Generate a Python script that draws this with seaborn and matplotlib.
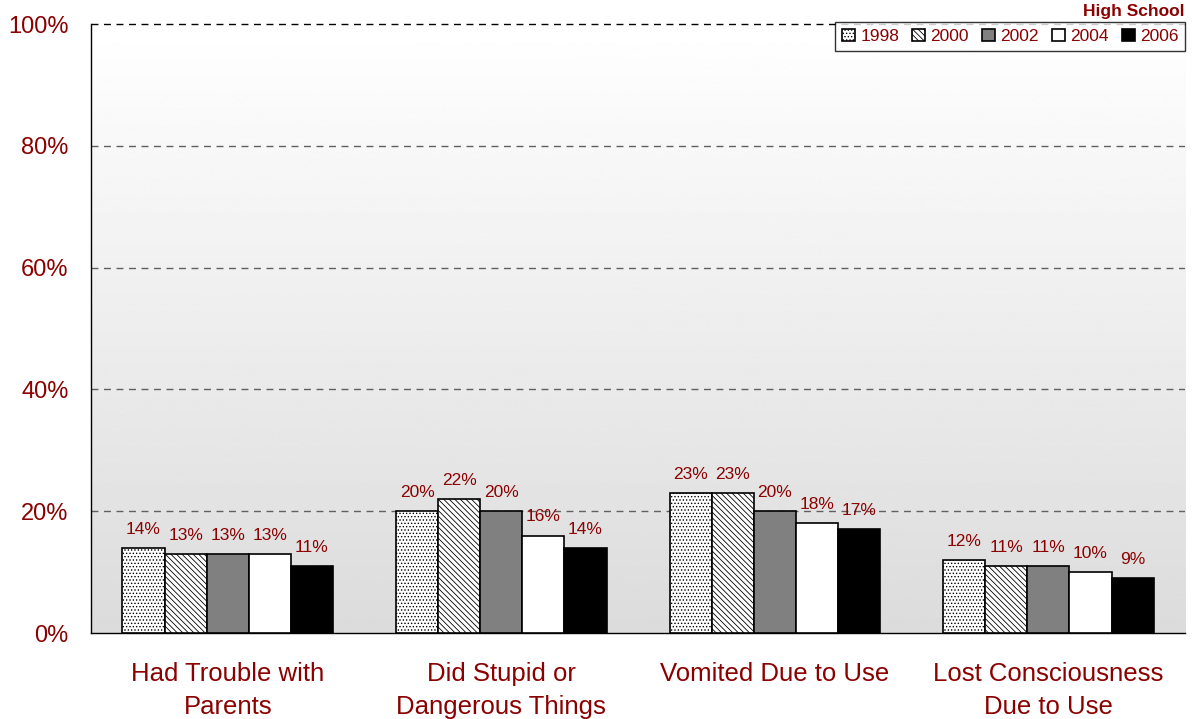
import numpy as np
import pandas as pd
import seaborn as sns
import matplotlib.pyplot as plt
from matplotlib.ticker import FuncFormatter

categories = ["Had Trouble with\nParents", "Did Stupid or\nDangerous Things",
              "Vomited Due to Use", "Lost Consciousness\nDue to Use"]
years = ["1998", "2000", "2002", "2004", "2006"]
vals_1998 = [14, 20, 23, 12]
vals_2000 = [13, 22, 23, 11]
vals_2002 = [13, 20, 20, 11]
vals_2004 = [13, 16, 18, 10]
vals_2006 = [11, 14, 17, 9]

# ---- long-form table ----
rows = []
for yr, vals in zip(years, [vals_1998, vals_2000, vals_2002, vals_2004, vals_2006]):
    for cat, v in zip(categories, vals):
        rows.append({"Category": cat, "Year": yr, "Pct": v})
df = pd.DataFrame(rows)

RED = "#8B0000"
faces = ["white", "white", "#808080", "white", "black"]
hatches = [".....", "\\\\\\\\\\\\", "", "", ""]

sns.set_style("white")
plt.rcParams["font.family"] = ["Liberation Sans", "DejaVu Sans"]
plt.rcParams["hatch.linewidth"] = 0.6
plt.rcParams["hatch.color"] = "black"

fig = plt.figure(figsize=(11.92, 7.19), dpi=100)
ax = fig.add_axes([0.0763, 0.1196, 0.918, 0.847])

# gradient background
grad = np.linspace(1.0, 0.86, 256).reshape(-1, 1)
ax.imshow(grad, cmap="gray", vmin=0, vmax=1, aspect="auto",
          extent=[0, 1, 0, 1], transform=ax.transAxes, zorder=0)

sns.barplot(data=df, x="Category", y="Pct", hue="Year", order=categories,
            hue_order=years, width=0.77, palette=faces, edgecolor="black",
            linewidth=1.2, saturation=1, ax=ax, zorder=3)

for cont, fc, h in zip(ax.containers, faces, hatches):
    for p in cont.patches:
        p.set_facecolor(fc)
        p.set_hatch(h)
        p.set_edgecolor("black")
        p.set_zorder(3)
    ax.bar_label(cont, labels=[f"{v:.0f}%" for v in cont.datavalues],
                 padding=8, color=RED, fontsize=12.5, zorder=4)

ax.set_xlim(-0.5, 3.5)
ax.set_ylim(0, 100)
ax.set_yticks([0, 20, 40, 60, 80, 100])
ax.yaxis.set_major_formatter(FuncFormatter(lambda v, _: f"{v:.0f}%"))
ax.tick_params(axis="y", length=0, pad=16, labelsize=17, labelcolor=RED)
ax.tick_params(axis="x", which="major", length=0, pad=21, labelsize=18.5, labelcolor=RED)
for t in ax.get_xticklabels():
    t.set_linespacing(1.45)
ax.set_xticks([-0.5, 0.5, 1.5, 2.5, 3.5], minor=True)
ax.tick_params(axis="x", which="minor", length=6, width=1, color="black", direction="out")
ax.set_xlabel("")
ax.set_ylabel("")

for y in [20, 40, 60, 80]:
    ax.axhline(y, color="#606060", lw=1, ls=(0, (5, 4)), zorder=1)
ax.axhline(100, color="black", lw=1, ls=(0, (5, 4)), zorder=1, clip_on=False)

for s in ["top", "right"]:
    ax.spines[s].set_visible(False)
for s in ["left", "bottom"]:
    ax.spines[s].set_color("black")
    ax.spines[s].set_linewidth(1)

handles = [c.patches[0] for c in ax.containers]
leg = ax.legend(handles, years, ncol=5, loc="upper right",
                bbox_to_anchor=(1.0, 1.004), borderaxespad=0, frameon=True,
                fontsize=12.5, handlelength=0.75, handleheight=0.75,
                handletextpad=0.3, columnspacing=0.75, borderpad=0.4,
                fancybox=False)
leg.get_frame().set_edgecolor("black")
leg.get_frame().set_linewidth(1)
leg.get_frame().set_facecolor("white")
for t in leg.get_texts():
    t.set_color(RED)

fig.text(0.994, 0.984, "High School", ha="right", va="center",
         fontsize=12.5, fontweight="bold", color=RED)

fig.savefig("out.png", dpi=100)
